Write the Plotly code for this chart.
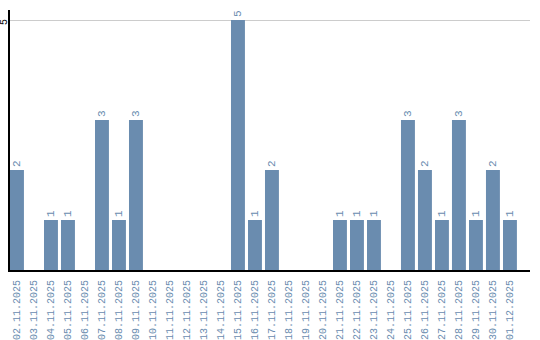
import plotly.graph_objects as go

dates = ["02.11.2025","03.11.2025","04.11.2025","05.11.2025","06.11.2025","07.11.2025",
         "08.11.2025","09.11.2025","10.11.2025","11.11.2025","12.11.2025","13.11.2025",
         "14.11.2025","15.11.2025","16.11.2025","17.11.2025","18.11.2025","19.11.2025",
         "20.11.2025","21.11.2025","22.11.2025","23.11.2025","24.11.2025","25.11.2025",
         "26.11.2025","27.11.2025","28.11.2025","29.11.2025","30.11.2025","01.12.2025"]
counts = [2,0,1,1,0,3,1,3,0,0,0,0,0,5,1,2,0,0,0,1,1,1,0,3,2,1,3,1,2,1]
y_ticks = [5]

labels = [str(v) if v else "" for v in counts]
FONT = "Liberation Mono"

fig = go.Figure(go.Bar(
    x=dates, y=counts, text=labels, textposition="outside", textangle=-90,
    cliponaxis=False,
    marker=dict(color="#6a8caf", line=dict(width=0)),
    textfont=dict(color="#6a8caf", size=11, family=FONT),
))
fig.update_layout(
    width=540, height=340,
    margin=dict(l=10, r=10, t=10, b=70),
    plot_bgcolor="white", paper_bgcolor="white",
    bargap=0.18, showlegend=False,
    font=dict(family=FONT, size=10),
)
for t in y_ticks:
    fig.add_annotation(
        x=0, xref="paper", y=t, yref="y", text=str(t), showarrow=False,
        textangle=-90, xanchor="center", yanchor="middle", xshift=-6, yshift=-2,
        font=dict(color="black", size=10, family=FONT),
    )
fig.update_xaxes(
    type="category", range=[-0.41, 30.18], tickangle=-90, automargin=False,
    tickfont=dict(color="#6a8caf", size=10, family=FONT), showgrid=False,
    showline=True, linecolor="black", linewidth=2, ticks="", ticklabelstandoff=4,
)
fig.update_yaxes(
    range=[0, 5.2], tickvals=y_ticks, showticklabels=False, automargin=False,
    showgrid=True, gridcolor="#cccccc",
    showline=True, linecolor="black", linewidth=2, zeroline=False, ticks="",
)
fig.write_html("out.html")
